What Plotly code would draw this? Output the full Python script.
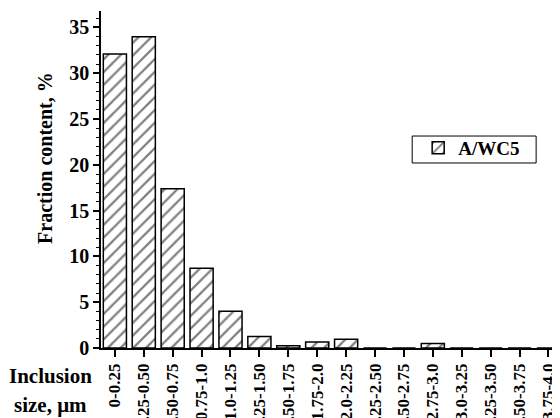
import plotly.graph_objects as go

categories = ["0-0.25", "0.25-0.50", "0.50-0.75", "0.75-1.0", "1.0-1.25", "1.25-1.50",
              "1.50-1.75", "1.75-2.0", "2.0-2.25", "2.25-2.50", "2.50-2.75", "2.75-3.0",
              "3.0-3.25", "3.25-3.50", "3.50-3.75", "3.75-4.0"]
values = [32.1, 34.0, 17.4, 8.7, 4.0, 1.25, 0.25, 0.65, 0.95, 0, 0, 0.5, 0, 0, 0, 0]
series_name = "A/WC5"

FONT = "Liberation Serif"

fig = go.Figure()
fig.add_trace(go.Bar(
    x=categories, y=values, name=series_name, width=0.8,
    marker=dict(color="white", line=dict(color="black", width=1.5),
                pattern=dict(shape="/", fgcolor="black", bgcolor="white", size=9, solidity=0.25)),
    showlegend=True,
))

fig.update_layout(
    width=552, height=410,
    margin=dict(l=93, r=0, t=3, b=70),
    paper_bgcolor="white", plot_bgcolor="white",
    font=dict(family=FONT, color="black"),
    showlegend=True,
    legend=dict(x=0.691, y=0.650, xanchor="left", yanchor="top",
                borderwidth=0, bgcolor="rgba(0,0,0,0)",
                tracegroupgap=0, itemwidth=30,
                font=dict(family=FONT, size=19, color="black", weight="bold")),
    bargap=0.2,
)

# legend frame
fig.add_shape(type="rect", xref="paper", yref="paper",
              x0=0.678, x1=0.948, y0=0.549, y1=0.629,
              line=dict(color="black", width=1), fillcolor="rgba(0,0,0,0)")

fig.update_xaxes(
    type="category", range=[-0.48, 15.4],
    showline=True, linecolor="black", linewidth=1.5,
    ticks="outside", ticklen=7, tickwidth=1.5, tickcolor="black",
    tickangle=-90, automargin=False,
    tickfont=dict(family=FONT, size=17, color="black", weight="bold"),
    showgrid=False, zeroline=False,
)
fig.update_yaxes(
    range=[0, 36.8], dtick=5, tick0=0,
    showline=True, linecolor="black", linewidth=1.5,
    ticks="outside", ticklen=6, tickwidth=1.5, tickcolor="black",
    minor=dict(dtick=1, ticks="outside", ticklen=3, tickwidth=1, tickcolor="black"),
    automargin=False,
    tickfont=dict(family=FONT, size=20, color="black", weight="bold"),
    showgrid=False, zeroline=False,
)

fig.add_annotation(text="Fraction content, %", xref="paper", yref="paper",
                   x=-0.122, y=0.564, xanchor="center", yanchor="middle",
                   textangle=-90, showarrow=False,
                   font=dict(family=FONT, size=20, color="black", weight="bold"))
fig.add_annotation(text="Inclusion", xref="paper", yref="paper",
                   x=-0.109, y=-0.083, xanchor="center", yanchor="middle",
                   showarrow=False,
                   font=dict(family=FONT, size=21, color="black", weight="bold"))
fig.add_annotation(text="size, μm", xref="paper", yref="paper",
                   x=-0.109, y=-0.169, xanchor="center", yanchor="middle",
                   showarrow=False,
                   font=dict(family=FONT, size=21, color="black", weight="bold"))

fig.write_html("out.html")
